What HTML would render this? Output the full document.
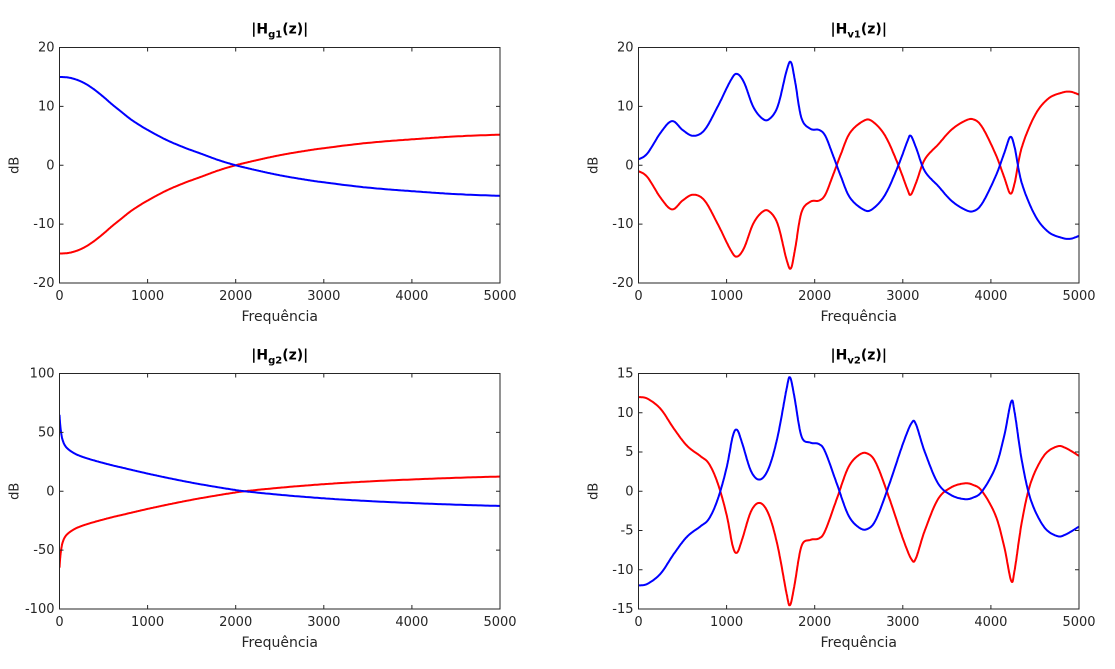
<!DOCTYPE html><html><head><style>body{margin:0;background:#fff}svg{display:block;font-family:"DejaVu Sans","Liberation Sans",sans-serif}</style></head><body>
<svg id="s" width="1115" height="669" xmlns="http://www.w3.org/2000/svg"></svg>
<script>
const S=document.getElementById('s');let h='';
function cr(pts){
 const out=[];for(let i=0;i<pts.length-1;i++){const p0=pts[Math.max(0,i-1)],p1=pts[i],p2=pts[i+1],p3=pts[Math.min(pts.length-1,i+2)];
 for(let t=0;t<1;t+=0.05){const t2=t*t,t3=t2*t;const f=(a,b,c,d)=>0.5*(2*b+(-a+c)*t+(2*a-5*b+4*c-d)*t2+(-a+3*b-3*c+d)*t3);out.push([f(p0[0],p1[0],p2[0],p3[0]),f(p0[1],p1[1],p2[1],p3[1])]);}}
 out.push(pts[pts.length-1]);return out;}
function plot(x0,y0,x1,y1,ymin,ymax,ystep,title,sub,pts){
 const X=v=>x0+(x1-x0)*v/5000,Y=v=>y1-(y1-y0)*(v-ymin)/(ymax-ymin);
 const c=cr(pts);
 h+=`<clipPath id="c${x0}${y0}"><rect x="${x0}" y="${y0}" width="${x1-x0}" height="${y1-y0}"/></clipPath>`;
 const P=s=>c.map(p=>X(p[0]).toFixed(1)+','+Y(s*p[1]).toFixed(1)).join(' ');
 h+=`<g clip-path="url(#c${x0}${y0})"><polyline points="${P(-1)}" fill="none" stroke="#f00" stroke-width="2"/><polyline points="${P(1)}" fill="none" stroke="#00f" stroke-width="2"/></g>`;
 h+=`<rect x="${x0}" y="${y0}" width="${x1-x0}" height="${y1-y0}" fill="none" stroke="#262626" stroke-width="1"/>`;
 for(let v=0;v<=5000;v+=1000){const x=X(v);h+=`<line x1="${x}" y1="${y1}" x2="${x}" y2="${y1-4}" stroke="#262626"/><line x1="${x}" y1="${y0}" x2="${x}" y2="${y0+4}" stroke="#262626"/><text x="${x}" y="${y1+17}" font-size="13" fill="#262626" text-anchor="middle">${v}</text>`;}
 for(let v=ymin;v<=ymax+1e-9;v+=ystep){const y=Y(v);h+=`<line x1="${x0}" y1="${y}" x2="${x0+4}" y2="${y}" stroke="#262626"/><line x1="${x1}" y1="${y}" x2="${x1-4}" y2="${y}" stroke="#262626"/><text x="${x0-5}" y="${y+4}" font-size="13" fill="#262626" text-anchor="end">${v}</text>`;}
 const cx=(x0+x1)/2;
 h+=`<text x="${cx}" y="${y1+38}" font-size="14" fill="#262626" text-anchor="middle">Frequência</text>`;
 h+=`<text transform="translate(${x0-41},${(y0+y1)/2}) rotate(-90)" font-size="13" fill="#262626" text-anchor="middle">dB</text>`;
 h+=`<text x="${cx}" y="${y0-14}" font-size="14" font-weight="bold" fill="#000" text-anchor="middle">|H<tspan font-size="10" dy="4">${sub}</tspan><tspan dy="-4">(z)|</tspan></text>`;
}
plot(59.5,47.5,500,283,-20,20,10,'','g1',[[0,15],[100,14.9],[200,14.5],[300,13.8],[400,12.8],[500,11.6],[600,10.3],[700,9.1],[800,7.9],[900,6.9],[1000,6],[1200,4.4],[1400,3.1],[1600,2],[1800,0.9],[2000,0],[2250,-0.9],[2500,-1.7],[2750,-2.35],[3000,-2.9],[3500,-3.8],[4000,-4.4],[4500,-4.9],[5000,-5.2]]);
plot(638.5,47.5,1079,283,-20,20,10,'','v1',[[0,1],[100,2],[250,5.5],[380,7.5],[500,6],[620,5],[750,6],[900,10],[1050,14.5],[1120,15.5],[1200,14],[1300,10],[1400,8],[1480,7.8],[1580,10],[1680,16],[1730,17.5],[1780,14],[1850,8],[1950,6.2],[2050,6],[2120,5],[2200,2],[2300,-2],[2400,-5.5],[2550,-7.5],[2650,-7.5],[2800,-5],[2950,0],[3050,4],[3090,5],[3150,3],[3250,-1],[3400,-3.5],[3550,-6],[3700,-7.5],[3800,-7.8],[3900,-6.5],[4050,-2],[4150,2],[4220,4.8],[4270,3],[4350,-3],[4500,-8.5],[4650,-11.3],[4800,-12.3],[4900,-12.5],[5000,-12]]);
plot(59.5,373.5,500,609,-100,100,50,'','g2',[[0,65],[10,55],[30,45],[70,38],[150,33],[250,29.5],[400,26],[600,22],[800,18.5],[1000,15],[1250,11],[1500,7.3],[1750,4],[2000,1],[2100,0],[2500,-3],[3000,-6],[3500,-8.3],[4000,-10],[4500,-11.4],[5000,-12.5]]);
plot(638.5,373.5,1079,609,-15,15,5,'','v2',[[0,-12],[100,-11.8],[250,-10.5],[400,-8],[550,-5.8],[700,-4.5],[800,-3.5],[900,-1],[1000,3],[1070,7],[1120,7.8],[1180,6],[1280,2.5],[1380,1.5],[1480,3],[1580,7],[1680,13],[1720,14.5],[1770,12],[1850,7],[1950,6.2],[2050,6],[2120,5],[2250,1],[2380,-3],[2500,-4.6],[2600,-4.8],[2700,-3.5],[2850,1],[3000,6],[3100,8.7],[3150,8.5],[3250,5],[3400,1],[3550,-0.5],[3700,-1],[3800,-0.8],[3900,0],[4050,3],[4150,7],[4230,11.4],[4270,10],[4350,4],[4450,-1],[4600,-4.5],[4750,-5.7],[4850,-5.5],[5000,-4.5]]);
S.innerHTML=h;
</script></body></html>
